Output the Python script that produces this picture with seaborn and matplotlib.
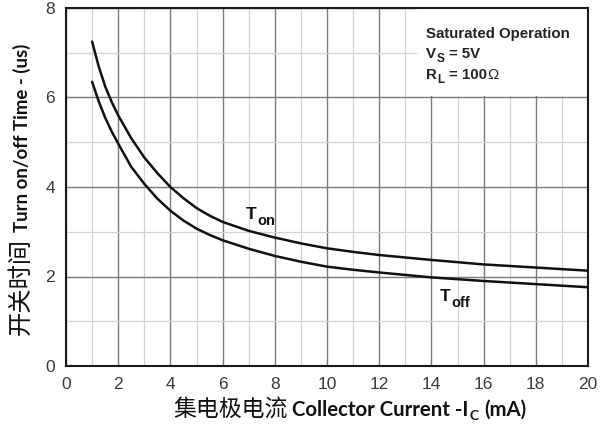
import matplotlib
matplotlib.use('Agg')
import matplotlib.pyplot as plt
import seaborn as sns
import pandas as pd
from matplotlib.font_manager import FontProperties
from matplotlib.ticker import MultipleLocator
from matplotlib.transforms import IdentityTransform
from matplotlib.patches import Rectangle

# ---- data ----
current_ma = [1, 1.25, 1.5, 1.75, 2, 2.5, 3, 3.5, 4, 4.5, 5, 5.5, 6, 7, 8, 9,
              10, 11, 12, 14, 16, 18, 20]
t_on = [7.25, 6.70, 6.25, 5.90, 5.60, 5.09, 4.66, 4.31, 4.00, 3.75, 3.53, 3.36,
        3.22, 3.02, 2.87, 2.74, 2.63, 2.55, 2.48, 2.37, 2.27, 2.20, 2.13]
t_off = [6.35, 5.92, 5.55, 5.24, 4.97, 4.45, 4.07, 3.74, 3.47, 3.25, 3.07, 2.93,
         2.81, 2.62, 2.46, 2.33, 2.22, 2.15, 2.09, 1.98, 1.90, 1.83, 1.76]
x_ticks = [0, 2, 4, 6, 8, 10, 12, 14, 16, 18, 20]
y_ticks = [0, 2, 4, 6, 8]

sns.set_theme(style='white')
plt.rcParams['font.family'] = ['Liberation Sans', 'Noto Sans CJK SC', 'DejaVu Sans']

W, H = 600, 429
fig = plt.figure(figsize=(W / 100, H / 100), dpi=100)
fig.patch.set_facecolor('white')
ax = fig.add_axes([66 / W, 1 - 366 / H, (588 - 66) / W, (366 - 8) / H])

n = len(current_ma)
df = pd.DataFrame({
    'current': current_ma + current_ma,
    'time': t_on + t_off,
    'series': ['Ton'] * n + ['Toff'] * n,
})
sns.lineplot(data=df, x='current', y='time', hue='series', estimator=None,
             palette={'Ton': '#111111', 'Toff': '#111111'}, linewidth=1.8,
             legend=False, ax=ax, zorder=3)

ax.set_xlim(0, 20)
ax.set_ylim(0, 8)
ax.set_xticks(x_ticks)
ax.set_yticks(y_ticks)
ax.xaxis.set_minor_locator(MultipleLocator(1))
ax.yaxis.set_minor_locator(MultipleLocator(1))
ax.set_axisbelow(True)
ax.grid(which='major', color='#7a7a7a', linewidth=1.0)
ax.grid(which='minor', color='#d2d2d2', linewidth=0.9)
ax.tick_params(which='both', length=0)
ax.tick_params(axis='x', labelsize=12.5, labelcolor='#3a3a3a', pad=8)
ax.tick_params(axis='y', labelsize=12.5, labelcolor='#3a3a3a', pad=8)
for s in ax.spines.values():
    s.set_visible(True)
    s.set_color('#1a1a1a')
    s.set_linewidth(1.5)
ax.set_xlabel('')
ax.set_ylabel('')

# white annotation box
ax.add_patch(Rectangle((13.45, 6.03), 6.5, 1.95, facecolor='white',
                       edgecolor='none', zorder=1))

renderer = fig.canvas.get_renderer()


def width(s, fp):
    return renderer.get_text_width_height_descent(s, fp, ismath=False)[0]


def place(segments, x0, y0, vertical=False, color='#111111'):
    # segments: (text, fontprops, baseline shift px, gap after px)
    pos = 0.0
    for txt, fp, shift, gap in segments:
        if vertical:
            x, y, rot = x0 - shift, y0 + pos, 90
        else:
            x, y, rot = x0 + pos, y0 + shift, 0
        fig.text(x, y, txt, fontproperties=fp, color=color, rotation=rot,
                 rotation_mode='anchor', ha='left', va='baseline',
                 transform=IdentityTransform(), zorder=5)
        pos += width(txt, fp) + gap


def data_px(x, y):
    return ax.transData.transform((x, y))


# annotation box text
fp_box = FontProperties(family='Liberation Sans', weight='bold', size=10.8)
fp_box_sub = FontProperties(family='Liberation Sans', weight='bold', size=8.5)
fp_box_reg = FontProperties(family='Liberation Sans', size=10.8)
place([('Saturated Operation', fp_box, 0, 0)], *data_px(13.79, 7.34), color='#222222')
place([('V', fp_box, 0, 0.5), ('S', fp_box_sub, -3.5, 5), ('= 5V', fp_box, 0, 0)],
      *data_px(13.79, 6.88), color='#222222')
place([('R', fp_box, 0, 0.5), ('L', fp_box_sub, -3.5, 5), ('= 100', fp_box, 0, -0.5),
       ('Ω', fp_box_reg, 0, 0)], *data_px(13.79, 6.41), color='#222222')

# curve labels
fp_T = FontProperties(family='Liberation Sans', weight='bold', size=12.5)
fp_Tsub = FontProperties(family='Liberation Sans', weight='bold', size=10.5)
place([('T', fp_T, 0, 0.5), ('on', fp_Tsub, -6, 0)], *data_px(6.9, 3.28))
place([('T', fp_T, 0, 0.5), ('off', fp_Tsub, -6, 0)], *data_px(14.33, 1.45))

# composite axis labels (mixed fonts)
fp_cjk_x = FontProperties(family='Noto Sans CJK SC', size=16.5)
fp_en_x = FontProperties(family='Lato', weight='bold', size=14.7)
fp_sub_x = FontProperties(family='Lato', weight='bold', size=9.8)
fp_cjk_y = FontProperties(family='Noto Sans CJK SC', size=17.5)
fp_en_y = FontProperties(family='Lato', weight='bold', size=13.4)

xl = [('集电极电流', fp_cjk_x, 0, 5),
      ('Collector Current -I', fp_en_x, 0, 0.5),
      ('C', fp_sub_x, -3.5, 6),
      ('(mA)', fp_en_x, 0, 0)]
place(xl, 173, H - 416)

yl = [('开关时间', fp_cjk_y, 0, 6),
      ('Turn on/off Time - (us)', fp_en_y, 0, 0)]
place(yl, 28, H - 335, vertical=True)

fig.savefig('out.png', dpi=100, facecolor='white')
